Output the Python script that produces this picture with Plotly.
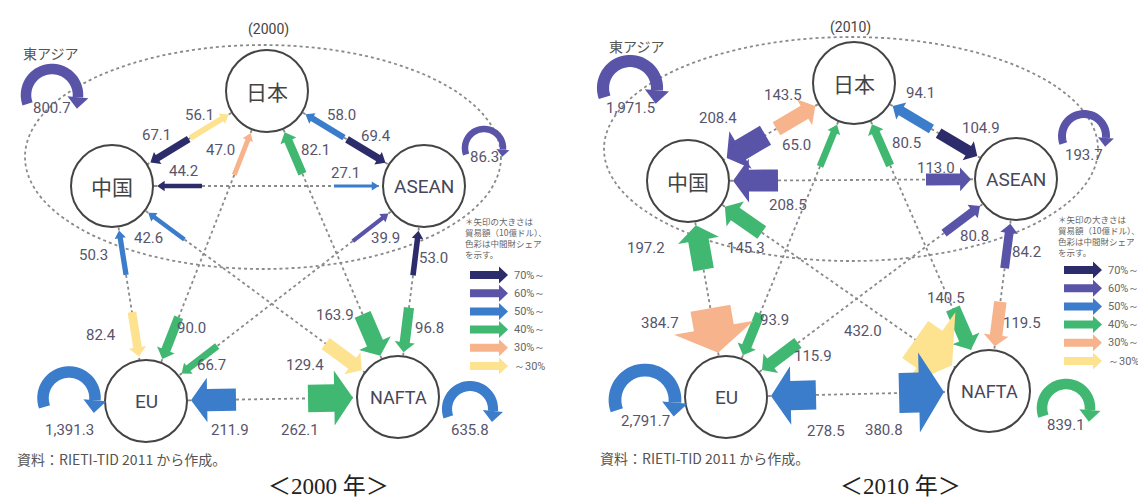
import math
import plotly.graph_objects as go

# ---------------- data ----------------
REGIONS = ["日本", "中国", "ASEAN", "EU", "NAFTA"]
FLOW_ORIGIN = ["日本", "中国", "日本", "ASEAN", "ASEAN", "中国", "日本", "EU", "日本", "NAFTA",
               "中国", "EU", "中国", "NAFTA", "ASEAN", "EU", "ASEAN", "NAFTA", "EU", "NAFTA"]
FLOW_DEST = ["中国", "日本", "ASEAN", "日本", "中国", "ASEAN", "EU", "日本", "NAFTA", "日本",
             "EU", "中国", "NAFTA", "中国", "EU", "ASEAN", "NAFTA", "ASEAN", "NAFTA", "EU"]
VALUE_2000 = [67.1, 56.1, 69.4, 58.0, 44.2, 27.1, 90.0, 47.0, 163.9, 82.1,
              82.4, 50.3, 129.4, 42.6, 66.7, 39.9, 96.8, 53.0, 262.1, 211.9]
SHARE_2000 = ["70%～", "～30%", "70%～", "50%～", "70%～", "50%～", "40%～", "30%～", "40%～", "40%～",
              "～30%", "50%～", "～30%", "50%～", "40%～", "60%～", "40%～", "70%～", "40%～", "50%～"]
VALUE_2010 = [208.4, 143.5, 104.9, 94.1, 208.5, 113.0, 93.9, 65.0, 140.5, 80.5,
              384.7, 197.2, 432.0, 145.3, 115.9, 80.8, 119.5, 84.2, 380.8, 278.5]
SHARE_2010 = ["60%～", "30%～", "70%～", "50%～", "60%～", "60%～", "40%～", "40%～", "40%～", "40%～",
              "30%～", "40%～", "～30%", "40%～", "40%～", "60%～", "30%～", "60%～", "50%～", "50%～"]
INTRA_REGION = ["東アジア", "ASEAN", "EU", "NAFTA"]
INTRA_2000 = [800.7, 86.3, 1391.3, 635.8]
INTRA_SHARE_2000 = ["60%～", "60%～", "50%～", "50%～"]
INTRA_2010 = [1971.5, 193.7, 2791.7, 839.1]
INTRA_SHARE_2010 = ["60%～", "60%～", "50%～", "40%～"]
SHARE_CLASSES = ["70%～", "60%～", "50%～", "40%～", "30%～", "～30%"]
SHARE_COLORS = ["#2d2c6b", "#5a54a8", "#3b7dcb", "#41b872", "#f7b48c", "#fde28f"]
NOTE_LINES = ["＊矢印の大きさは", "貿易額（10億ドル）、", "色彩は中間財シェア", "を示す。"]
SOURCE_TEXT = "資料：RIETI-TID 2011 から作成。"

# ---------------- layout (positions in page pixels) ----------------
PANELS = [
    dict(year="2000", values=VALUE_2000, shares=SHARE_2000, intra=INTRA_2000, intra_share=INTRA_SHARE_2000,
         nodes={"日本": (259, 83), "中国": (104, 178), "ASEAN": (416, 178), "EU": (138, 393), "NAFTA": (390, 389)},
         ellipse=(255, 149, 238, 112),
         loops=[(44, 87, 26, 13), (476, 140, 19, 9), (61, 390, 26, 32), (462, 401, 23, 21)],
         label_off=[(6, -27), (-29, 0), (-10, -27), (36, 1), (26, -15), (-34, -13), (29, -31), (-30, 17),
                    (-45, -41), (31, 18), (-38, -22), (-26, 25), (-57, -5), (0, 25), (30, -8), (-3, 24),
                    (26, -24), (15, 27), (-53, 32), (39, 30)],
         title=(260, 21), ea=(42, 45), source=(7, 451), caption=(320, 478),
         note=(455, 229), legend=(462, 267)),
    dict(year="2010", values=VALUE_2010, shares=SHARE_2010, intra=INTRA_2010, intra_share=INTRA_SHARE_2010,
         nodes={"日本": (846, 75), "中国": (680, 173), "ASEAN": (1008, 171), "EU": (718, 389), "NAFTA": (981, 383)},
         ellipse=(843, 141, 247, 112),
         loops=[(622, 80, 27, 20), (1076, 128, 22, 19), (637, 392, 30, 21), (1058, 400, 24, 17)],
         label_off=[(-9, -40), (-32, -11), (4, -28), (28, -13), (55, 24), (-35, -11), (32, -35), (-41, 20),
                    (-25, -52), (34, 19), (-58, -30), (-50, 23), (-89, -34), (21, 41), (51, -14), (-6, 30),
                    (27, -23), (16, 28), (-60, 38), (55, 35)],
         title=(842, 19), ea=(628, 38), source=(590, 450), caption=(892, 478),
         note=(1048, 227), legend=(1056, 262)),
]

R_NODE = 41
GAP = 4
ARROW_LEN = 45
LABEL_COLOR = "#57546c"
NUM_FONT = "Roboto, Arial, sans-serif"
JP_FONT = "Noto Sans CJK JP, sans-serif"

shapes = []
annotations = []


def color_of(share):
    return SHARE_COLORS[SHARE_CLASSES.index(share)]


def poly(points, color):
    path = "M " + " L ".join(f"{x:.2f},{y:.2f}" for x, y in points) + " Z"
    shapes.append(dict(type="path", path=path, xref="x", yref="y", fillcolor=color,
                       line=dict(color=color, width=0), layer="above"))


def arrow(tip, u, w, hw, hl, length, color):
    n = (-u[1], u[0])
    sx, sy = tip[0] - u[0] * length, tip[1] - u[1] * length
    bx, by = tip[0] - u[0] * hl, tip[1] - u[1] * hl
    pts = [(sx + n[0] * w / 2, sy + n[1] * w / 2), (bx + n[0] * w / 2, by + n[1] * w / 2),
           (bx + n[0] * hw / 2, by + n[1] * hw / 2), tip,
           (bx - n[0] * hw / 2, by - n[1] * hw / 2), (bx - n[0] * w / 2, by - n[1] * w / 2),
           (sx - n[0] * w / 2, sy - n[1] * w / 2)]
    poly(pts, color)


def text(x, y, s, size, color=LABEL_COLOR, family=NUM_FONT, xanchor="center"):
    annotations.append(dict(x=x, y=y, xref="x", yref="y", text=s, showarrow=False,
                            xanchor=xanchor, yanchor="middle", align=xanchor if xanchor != "center" else "center",
                            font=dict(size=size, color=color, family=family)))


for P in PANELS:
    nodes = P["nodes"]
    cx, cy, a, b = P["ellipse"]
    shapes.append(dict(type="circle", xref="x", yref="y", x0=cx - a, x1=cx + a, y0=cy - b, y1=cy + b,
                       line=dict(color="#8a8a8a", width=1.8, dash="dot"), layer="above"))
    # dashed connectors
    for i in range(len(REGIONS)):
        for j in range(i + 1, len(REGIONS)):
            p, q = nodes[REGIONS[i]], nodes[REGIONS[j]]
            shapes.append(dict(type="line", xref="x", yref="y", x0=p[0], y0=p[1], x1=q[0], y1=q[1],
                               line=dict(color="#8a8a8a", width=1.8, dash="dot"), layer="above"))
    # nodes
    for r in REGIONS:
        x, y = nodes[r]
        shapes.append(dict(type="circle", xref="x", yref="y", x0=x - R_NODE, x1=x + R_NODE,
                           y0=y - R_NODE, y1=y + R_NODE, fillcolor="white",
                           line=dict(color="#444444", width=2), layer="above"))
        if r in ("日本", "中国"):
            text(x, y, r, 21, "#444444", JP_FONT)
        else:
            text(x, y, r, 19 if r != "NAFTA" else 18, "#47465a", NUM_FONT)
    # intra-regional loops
    for k, region in enumerate(INTRA_REGION):
        lcx, lcy, lr, ldy = P["loops"][k]
        v = P["intra"][k]
        col = color_of(P["intra_share"][k])
        lw = 1.8 * math.log(v) - 1.5
        t0, t1 = math.radians(200), math.radians(-5)
        pts = []
        for s in range(41):
            t = t0 + (t1 - t0) * s / 40
            pts.append((lcx + lr * math.cos(t), lcy - lr * math.sin(t)))
        path = "M " + " L ".join(f"{x:.2f},{y:.2f}" for x, y in pts)
        shapes.append(dict(type="path", path=path, xref="x", yref="y", fillcolor="rgba(0,0,0,0)",
                           line=dict(color=col, width=lw), layer="above"))
        ex, ey = pts[-1]
        tu = (math.sin(t1), math.cos(t1))
        hw, hl = 2.0 * lw, 1.1 * lw
        tip = (ex + tu[0] * hl, ey + tu[1] * hl)
        arrow(tip, tu, 0, hw, hl, hl, col)
        text(lcx, lcy + ldy, f"{v:,.1f}", 15)
    # bilateral flows
    for k in range(len(FLOW_ORIGIN)):
        src, dst = nodes[FLOW_ORIGIN[k]], nodes[FLOW_DEST[k]]
        dx, dy = dst[0] - src[0], dst[1] - src[1]
        d = math.hypot(dx, dy)
        u = (dx / d, dy / d)
        tip = (dst[0] - u[0] * (R_NODE + GAP), dst[1] - u[1] * (R_NODE + GAP))
        v = P["values"][k]
        w = max(2.4, 0.105 * v)
        hw = max(2 * w, w + 6)
        hl = min(5 + 0.25 * hw, 30)
        arrow(tip, u, w, hw, hl, ARROW_LEN, color_of(P["shares"][k]))
        ox, oy = P["label_off"][k]
        text(tip[0] + ox, tip[1] + oy, f"{v:,.1f}", 15)
    # texts
    text(*P["title"], f"({P['year']})", 14, "#444444")
    text(*P["ea"], INTRA_REGION[0], 14, "#555555", JP_FONT)
    text(P["source"][0], P["source"][1], SOURCE_TEXT, 14, "#555555", JP_FONT, xanchor="left")
    text(*P["caption"], f"＜{P['year']} 年＞", 23, "#222222",
         "Liberation Serif, Noto Sans CJK JP, serif")
    text(P["note"][0], P["note"][1], "<br>".join(NOTE_LINES), 8.5, "#666666", JP_FONT, xanchor="left")
    # legend
    lx, ly = P["legend"]
    for k, cls in enumerate(SHARE_CLASSES):
        yy = ly + k * 18.2
        arrow((lx + 38, yy), (1, 0), 8, 17, 9, 38, SHARE_COLORS[k])
        text(lx + 42, yy, cls, 11, "#666666", NUM_FONT, xanchor="left")

fig = go.Figure(go.Scatter(x=[0, 1146], y=[0, 499], mode="markers", marker=dict(opacity=0),
                           hoverinfo="skip", showlegend=False))
fig.update_layout(width=1146, height=499, margin=dict(l=0, r=0, t=0, b=0),
                  paper_bgcolor="white", plot_bgcolor="white",
                  xaxis=dict(range=[0, 1146], visible=False, fixedrange=True),
                  yaxis=dict(range=[499, 0], visible=False, fixedrange=True),
                  shapes=shapes, annotations=annotations, showlegend=False)
fig.write_html("out.html")
